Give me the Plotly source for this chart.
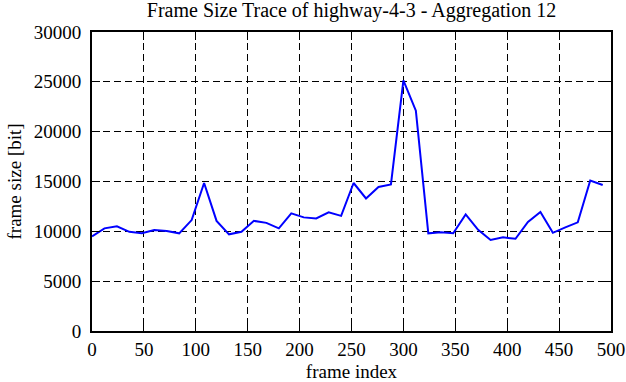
import plotly.graph_objects as go

frame_index = [0, 12, 24, 36, 48, 60, 72, 84, 96, 108, 120, 132, 144, 156, 168, 180,
               192, 204, 216, 228, 240, 252, 264, 276, 288, 300, 312, 324, 336, 348,
               360, 372, 384, 396, 408, 420, 432, 444, 456, 468, 480, 492]
frame_size = [9500, 10300, 10500, 9950, 9800, 10130, 10030, 9800, 11130, 14850,
              11050, 9700, 9950, 11050, 10850, 10300, 11800, 11400, 11300, 11900,
              11550, 14850, 13300, 14450, 14700, 25150, 22100, 9800, 9900, 9800,
              11700, 10150, 9130, 9400, 9250, 10950, 11950, 9850, 10400, 10900,
              15100, 14650]

x_ticks = [0, 50, 100, 150, 200, 250, 300, 350, 400, 450, 500]
y_ticks = [0, 5000, 10000, 15000, 20000, 25000, 30000]
y_tick_labels = ["0", "5000", "10000", "15000", "20000", "25000", "30000"]

FAMILY = "Liberation Serif"
font = dict(family=FAMILY, size=19, color="black")

fig = go.Figure()
fig.add_trace(go.Scatter(x=frame_index, y=frame_size, mode="lines",
                         line=dict(color="#0000ff", width=2), showlegend=False))

axis_common = dict(showline=True, linecolor="black", linewidth=2, mirror="ticks",
                   ticks="inside", ticklen=8, tickwidth=1, tickcolor="black",
                   showgrid=True, gridcolor="black", gridwidth=1, griddash="7px,4px",
                   zeroline=False, tickfont=font, automargin=False)

fig.update_layout(
    width=626, height=382,
    margin=dict(l=92, r=15, t=32, b=51),
    paper_bgcolor="white", plot_bgcolor="white",
    font=font,
    title=dict(text="Frame Size Trace of highway-4-3 - Aggregation 12",
               x=0.5, xref="paper", y=1 - 10 / 382, yref="container", yanchor="middle",
               font=dict(family=FAMILY, size=20, color="black")),
    xaxis=dict(range=[0, 500], tickvals=x_ticks, ticktext=[str(v) for v in x_ticks],
               title=dict(text="frame index", font=font, standoff=6),
               **axis_common),
    yaxis=dict(range=[0, 30000], tickvals=y_ticks, ticktext=y_tick_labels,
               ticklabelstandoff=5,
               title=dict(text="frame size [bit]", font=font, standoff=7),
               **axis_common),
)

fig.write_html("out.html", config={"displayModeBar": False},
               post_script="document.body.style.margin='0';")
